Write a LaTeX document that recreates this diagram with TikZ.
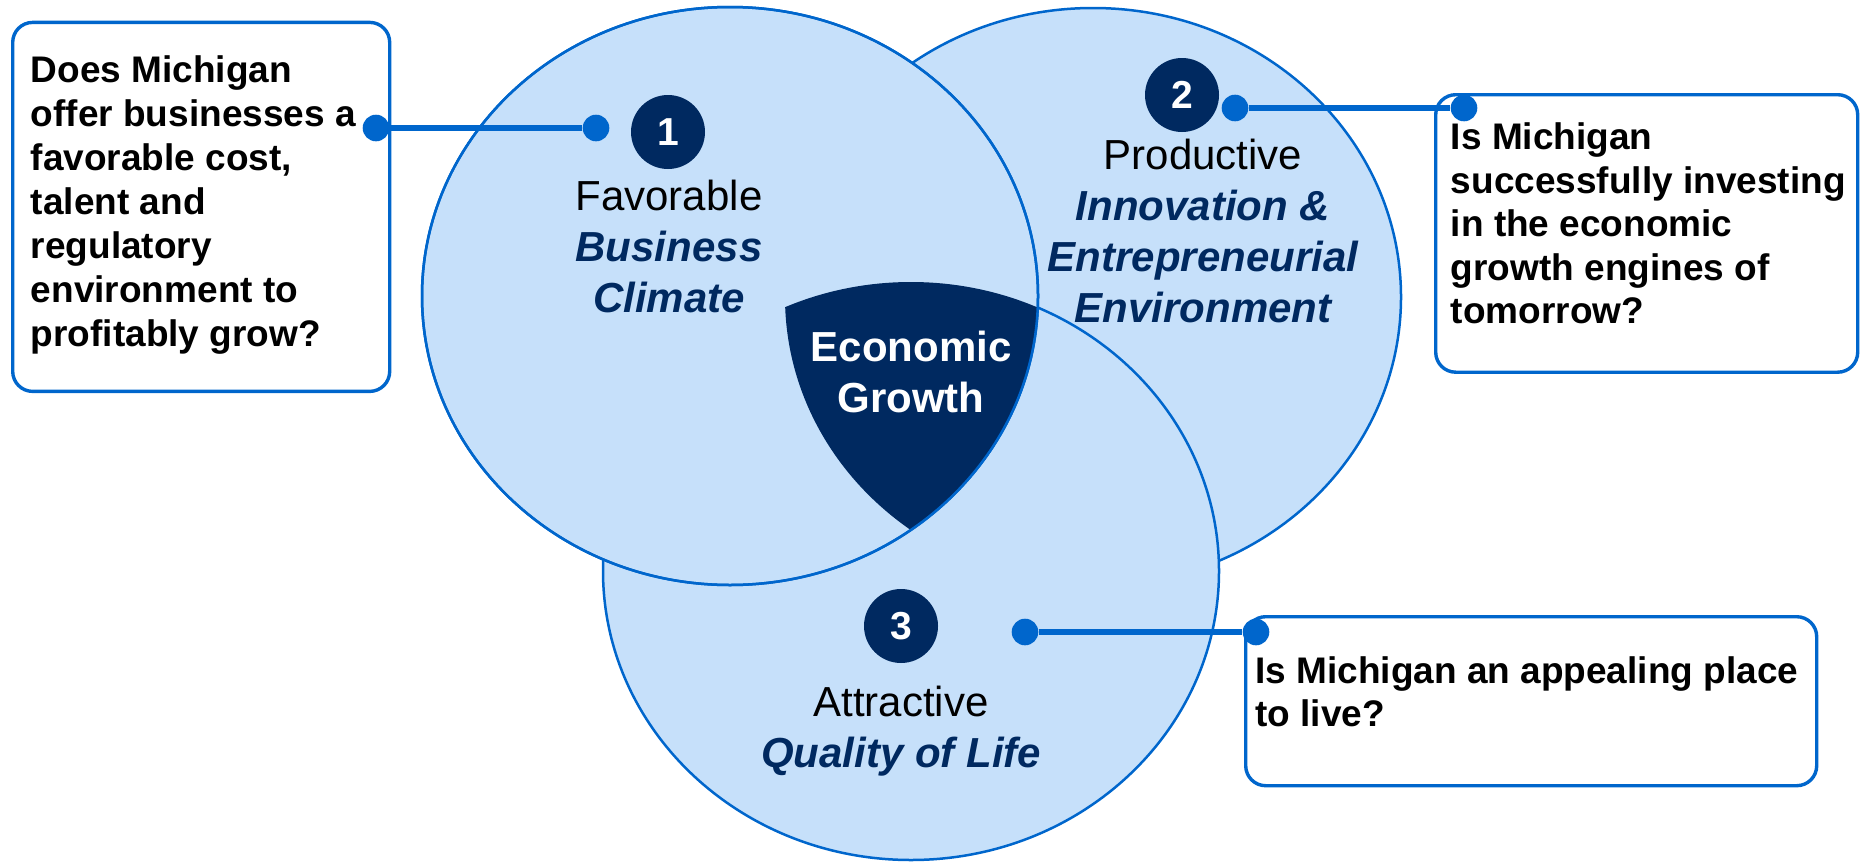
\documentclass[tikz,border=0pt]{standalone}
\usepackage{fontspec}
\setmainfont{Liberation Sans}
\usepackage{tikz}

\definecolor{navy}{RGB}{0,41,96}
\definecolor{venn}{RGB}{198,224,250}
\definecolor{linkblue}{RGB}{0,102,204}
\newcommand{\pillar}[1]{{\bfseries\itshape\color{navy}#1}}

\begin{document}
\begin{tikzpicture}[x=0.5pt, y=-0.5pt,
        ring/.style={fill=venn, draw=linkblue, line width=1.25pt},
        badge/.style={circle, fill=navy, text=white, inner sep=0pt, minimum size=37pt, font=\bfseries\fontsize{19.5}{22}\selectfont},
        venntext/.style={align=center, inner sep=0pt, font=\fontsize{21}{25.5}\selectfont},
        qbox/.style={draw=linkblue, fill=white, line width=1.7pt, rounded corners=10pt, anchor=north west, inner sep=0pt},
        qtext/.style={anchor=north west, inner sep=0pt, align=left, font=\bfseries\fontsize{18.5}{21.75}\selectfont},
        dot/.style={circle, fill=linkblue, inner sep=0pt, minimum size=13.3pt},
        link/.style={linkblue, line width=2.8pt}]
        \useasboundingbox (0, 0) rectangle (1862, 862);
        \coordinate (c1) at (730, 296);
        \coordinate (c2) at (1093, 297);
        \coordinate (c3) at (911, 571);
        % the three pillars
        \draw [ring] (c2) ellipse [x radius = 308, y radius = 289];
        \draw [ring] (c3) ellipse [x radius = 308, y radius = 289];
        \draw [ring] (c1) ellipse [x radius = 308, y radius = 289];
        \begin{scope}
            \clip (c1) ellipse [x radius = 308, y radius = 289];
            \clip (c2) ellipse [x radius = 308, y radius = 289];
            \fill [navy] (c3) ellipse [x radius = 308, y radius = 289];
        \end{scope}
        \draw [linkblue, line width = 1.25pt] (c1) ellipse [x radius = 308, y radius = 289];
        \node [badge] (n1) at (668, 132) {1};
        \node [badge] (n2) at (1182, 95) {2};
        \node [badge] (n3) at (901, 626) {3};
        \node [venntext] (t1) at (669, 246) {Favorable\\\pillar{Business}\\\pillar{Climate}};
        \node [venntext] (t2) at (1203, 231) {Productive\\\pillar{Innovation \&}\\\pillar{Entrepreneurial}\\\pillar{Environment}};
        \node [venntext] (t3) at (901, 731) {Attractive\\\pillar{Quality of Life}};
        \node [venntext, text = white, font = \bfseries\fontsize{21}{25.5}\selectfont] (core) at (911, 372) {Economic\\Growth};
        % question boxes
        \node [qbox, minimum width = 188.5pt, minimum height = 184.5pt] (q1) at (11, 20.7) {};
        \node [qtext, font = \bfseries\fontsize{18.5}{22}\selectfont] (q1text) at (30.5, 55.5) {Does Michigan\\offer businesses a\\favorable cost,\\talent and\\regulatory\\environment to\\profitably grow?};
        \node [qbox, minimum width = 211pt, minimum height = 138.75pt] (q2) at (1434, 93) {};
        \node [qtext] (q2text) at (1450.5, 122.5) {Is Michigan\\successfully investing\\in the economic\\growth engines of\\tomorrow?};
        \node [qbox, minimum width = 285.5pt, minimum height = 84.5pt] (q3) at (1244, 615) {};
        \node [qtext] (q3text) at (1255, 656) {Is Michigan an appealing place\\to live?};
        % connectors
        \node [dot] (d1a) at (596, 128) {};
        \node [dot] (d1b) at (376, 128) {};
        \node [dot] (d2a) at (1235, 108) {};
        \node [dot] (d2b) at (1464, 108) {};
        \node [dot] (d3a) at (1025, 632) {};
        \node [dot] (d3b) at (1256, 632) {};
        \draw [link] (d1a) -- (d1b);
        \draw [link] (d2a) -- (d2b);
        \draw [link] (d3a) -- (d3b);
    \end{tikzpicture}
\end{document}
